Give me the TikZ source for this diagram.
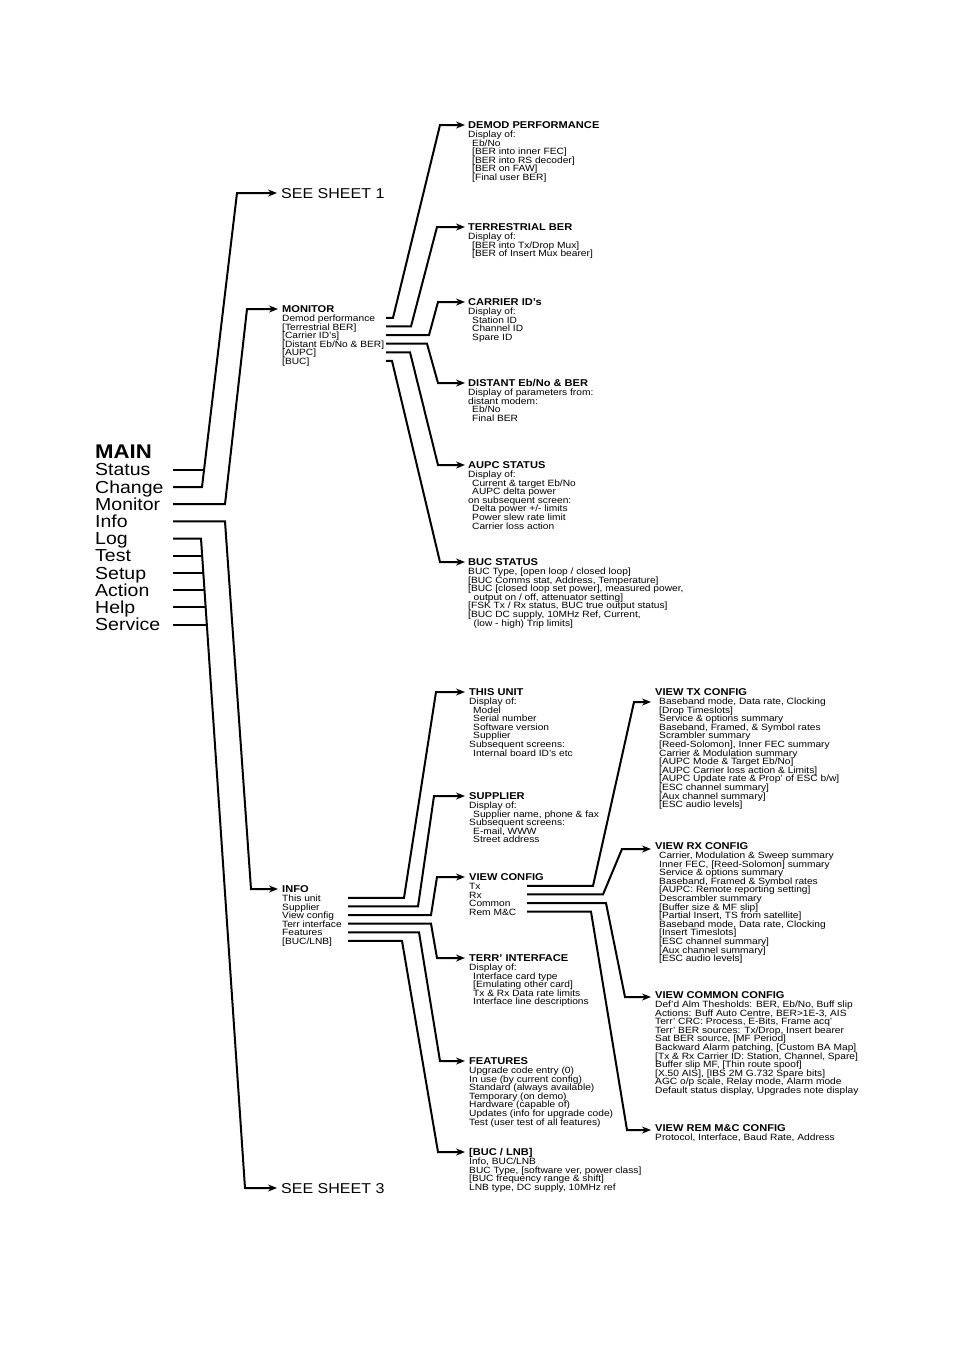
\documentclass[tikz,border=0pt]{standalone}
\usepackage{fontspec}
\setmainfont{Liberation Sans}[FakeStretch=1.12]
\usetikzlibrary{arrows.meta}
\newcommand\subf{\fontsize{9.1}{8.6}\selectfont\lineskiplimit=-10pt}
\newcommand\hdrf{\fontsize{9.9}{8.6}\selectfont\bfseries}
\newcommand\menuf{\fontsize{17.4}{17.2}\selectfont}
\newcommand\mainf{\fontsize{19.8}{17.2}\selectfont\bfseries}
\newcommand\sheetf{\fontsize{14.3}{14}\selectfont}
\newcommand\hd[1]{\rule{0pt}{7.2pt}{\hdrf #1}}
\newcommand\ind{\hspace*{4pt}}
\newcommand\indd{\hspace*{5.5pt}}
\begin{document}
\begin{tikzpicture}[x=1pt,y=-1pt,
  blk/.style={anchor=north west,inner sep=0pt,align=left,font=\subf},
  menu/.style={anchor=base west,inner sep=0pt,font=\menuf},
  sheet/.style={anchor=base west,inner sep=0pt,font=\sheetf},
  plain/.style={line width=2pt},
  conn/.style={line width=2pt,-{Stealth[length=9pt,width=7pt]}}]
\path[use as bounding box,fill=white] (0,0) rectangle (954,1350);

% ---------- MAIN menu ----------
\node[menu,font=\mainf] (main) at (95,458.7) {MAIN};
\node[menu] (status)  at (95,475.9) {Status};
\node[menu] (change)  at (95,493.1) {Change};
\node[menu] (monitorm) at (95,510.3) {Monitor};
\node[menu] (infom)   at (95,527.5) {Info};
\node[menu] (log)     at (95,544.7) {Log};
\node[menu] (test)    at (95,561.9) {Test};
\node[menu] (setup)   at (95,579.1) {Setup};
\node[menu] (action)  at (95,596.3) {Action};
\node[menu] (help)    at (95,613.5) {Help};
\node[menu] (service) at (95,630.7) {Service};

\coordinate (s-status)  at (173,469.8);
\coordinate (s-change)  at (173,487.0);
\coordinate (s-monitor) at (173,504.2);
\coordinate (s-info)    at (173,521.4);
\coordinate (s-log)     at (173,538.6);
\coordinate (s-test)    at (173,555.8);
\coordinate (s-setup)   at (173,573.0);
\coordinate (s-action)  at (173,590.2);
\coordinate (s-help)    at (173,607.4);
\coordinate (s-service) at (173,624.6);

% ---------- second level ----------
\node[sheet] (sheet1) at (281,198.1) {SEE SHEET 1};
\node[sheet] (sheet3) at (281,1193.1) {SEE SHEET 3};

\node[blk] (monitor) at (282,305.4) {\hd{MONITOR}\\{}Demod performance\\{}[Terrestrial BER]\\{}[Carrier ID's]\\{}[Distant Eb/No \& BER]\\{}[AUPC]\\{}[BUC]};
\node[blk] (info) at (282,885.4) {\hd{INFO}\\{}This unit\\{}Supplier\\{}View config\\{}Terr interface\\{}Features\\{}[BUC/LNB]};

% ---------- monitor sub menus ----------
\node[blk] (demod) at (468,121.4) {\hd{DEMOD PERFORMANCE}\\{}Display of:\\{}\ind Eb/No\\{}\ind [BER into inner FEC]\\{}\ind [BER into RS decoder]\\{}\ind [BER on FAW]\\{}\ind [Final user BER]};
\node[blk] (terrber) at (468,223.4) {\hd{TERRESTRIAL BER}\\{}Display of:\\{}\ind [BER into Tx/Drop Mux]\\{}\ind [BER of Insert Mux bearer]};
\node[blk] (carrier) at (468,298.4) {\hd{CARRIER ID's}\\{}Display of:\\{}\ind Station ID\\{}\ind Channel ID\\{}\ind Spare ID};
\node[blk] (distant) at (468,379.4) {\hd{DISTANT Eb/No \& BER}\\{}Display of parameters from:\\{}distant modem:\\{}\ind Eb/No\\{}\ind Final BER};
\node[blk] (aupc) at (468,461.4) {\hd{AUPC STATUS}\\{}Display of:\\{}\ind Current \& target Eb/No\\{}\ind AUPC delta power\\{}on subsequent screen:\\{}\ind Delta power +/- limits\\{}\ind Power slew rate limit\\{}\ind Carrier loss action};
\node[blk] (bucst) at (468,558.4) {\hd{BUC STATUS}\\{}BUC Type, [open loop / closed loop]\\{}[BUC Comms stat, Address, Temperature]\\{}[BUC [closed loop set power], measured power,\\{}\indd output on / off, attenuator setting]\\{}[FSK Tx / Rx status, BUC true output status]\\{}[BUC DC supply, 10MHz Ref, Current,\\{}\indd (low - high) Trip limits]};

% ---------- info sub menus ----------
\node[blk] (thisunit) at (469,688.4) {\hd{THIS UNIT}\\{}Display of:\\{}\ind Model\\{}\ind Serial number\\{}\ind Software version\\{}\ind Supplier\\{}Subsequent screens:\\{}\ind Internal board ID's etc};
\node[blk] (supplier) at (469,792.4) {\hd{SUPPLIER}\\{}Display of:\\{}\ind Supplier name, phone \& fax\\{}Subsequent screens:\\{}\ind E-mail, WWW\\{}\ind Street address};
\node[blk] (viewcfg) at (469,873.4) {\hd{VIEW CONFIG}\\{}Tx\\{}Rx\\{}Common\\{}Rem M\&C};
\node[blk] (terrif) at (469,954.4) {\hd{TERR' INTERFACE}\\{}Display of:\\{}\ind Interface card type\\{}\ind [Emulating other card]\\{}\ind Tx \& Rx Data rate limits\\{}\ind Interface line descriptions};
\node[blk] (features) at (469,1057.4) {\hd{FEATURES}\\{}Upgrade code entry (0)\\{}In use (by current config)\\{}Standard (always available)\\{}Temporary (on demo)\\{}Hardware (capable of)\\{}Updates (info for upgrade code)\\{}Test (user test of all features)};
\node[blk] (buclnb) at (469,1148.4) {\hd{[BUC / LNB]}\\{}Info, BUC/LNB\\{}BUC Type, [software ver, power class]\\{}[BUC frequency range \& shift]\\{}LNB type, DC supply, 10MHz ref};

% ---------- view config sub menus ----------
\node[blk] (vtx) at (655,688.4) {\hd{VIEW TX CONFIG}\\{}\ind Baseband mode, Data rate, Clocking\\{}\ind [Drop Timeslots]\\{}\ind Service \& options summary\\{}\ind Baseband, Framed, \& Symbol rates\\{}\ind Scrambler summary\\{}\ind [Reed-Solomon], Inner FEC summary\\{}\ind Carrier \& Modulation summary\\{}\ind [AUPC Mode \& Target Eb/No]\\{}\ind [AUPC Carrier loss action \& Limits]\\{}\ind [AUPC Update rate \& Prop' of ESC b/w]\\{}\ind [ESC channel summary]\\{}\ind [Aux channel summary]\\{}\ind [ESC audio levels]};
\node[blk] (vrx) at (655,842.4) {\hd{VIEW RX CONFIG}\\{}\ind Carrier, Modulation \& Sweep summary\\{}\ind Inner FEC, [Reed-Solomon] summary\\{}\ind Service \& options summary\\{}\ind Baseband, Framed \& Symbol rates\\{}\ind [AUPC: Remote reporting setting]\\{}\ind Descrambler summary\\{}\ind [Buffer size \& MF slip]\\{}\ind [Partial Insert, TS from satellite]\\{}\ind Baseband mode, Data rate, Clocking\\{}\ind [Insert Timeslots]\\{}\ind [ESC channel summary]\\{}\ind [Aux channel summary]\\{}\ind [ESC audio levels]};
\node[blk] (vcommon) at (655,991.4) {\hd{VIEW COMMON CONFIG}\\{}Def'd Alm Thesholds: BER, Eb/No, Buff slip\\{}Actions: Buff Auto Centre, BER>1E-3, AIS\\{}Terr' CRC: Process, E-Bits, Frame acq'\\{}Terr' BER sources: Tx/Drop, Insert bearer\\{}Sat BER source, [MF Period]\\{}Backward Alarm patching, [Custom BA Map]\\{}[Tx \& Rx Carrier ID: Station, Channel, Spare]\\{}Buffer slip MF, [Thin route spoof]\\{}[X.50 AIS], [IBS 2M G.732 Spare bits]\\{}AGC o/p scale, Relay mode, Alarm mode\\{}Default status display, Upgrades note display};
\node[blk] (vrem) at (655,1124.4) {\hd{VIEW REM M\&C CONFIG}\\{}Protocol, Interface, Baud Rate, Address};

% ---------- arrow targets ----------
\coordinate (t-sheet1) at ([xshift=-4pt,yshift=5.1pt]sheet1.base west);
\coordinate (t-sheet3) at ([xshift=-4pt,yshift=5.1pt]sheet3.base west);
\coordinate (t-monitor) at ([xshift=-4pt,yshift=-3.6pt]monitor.north west);
\coordinate (t-info) at ([xshift=-4pt,yshift=-3.6pt]info.north west);
\foreach \n in {demod,terrber,carrier,distant,aupc,bucst}
  {\coordinate (t-\n) at ([xshift=-3pt,yshift=-3.6pt]\n.north west);}
\foreach \n in {thisunit,supplier,viewcfg,terrif,features,buclnb}
  {\coordinate (t-\n) at ([xshift=-4pt,yshift=-3.6pt]\n.north west);}
\coordinate (t-vtx) at ([xshift=-4pt,yshift=-13.6pt]vtx.north west);
\coordinate (t-vrx) at ([xshift=-4pt,yshift=-6.6pt]vrx.north west);
\coordinate (t-vcommon) at ([xshift=-4pt,yshift=-5.6pt]vcommon.north west);
\coordinate (t-vrem) at ([xshift=-4pt,yshift=-5.6pt]vrem.north west);

% ---------- item line starts ----------
\foreach \k in {1,...,6} {
  \coordinate (s-mon\k) at (386,309.25+8.6*\k);
  \coordinate (s-inf\k) at (348,889.25+8.6*\k);
}
\foreach \k in {1,...,4} {\coordinate (s-vc\k) at (527,877.25+8.6*\k);}

% ---------- MAIN connectors ----------
\draw[plain] (s-status) -- (204.6,469.8);
\draw[conn] (s-change) -- (202,487) -- (237,0 |- t-sheet1) -- (t-sheet1);
\draw[conn] (s-monitor) -- (225,504.2) -- (247,0 |- t-monitor) -- (t-monitor);
\draw[conn] (s-info) -- (225,521.4) -- (251,0 |- t-info) -- (t-info);
\draw[conn] (s-log) -- (201,538.6) -- (245,0 |- t-sheet3) -- (t-sheet3);
\draw[plain] (s-test) -- (202.7,555.8);
\draw[plain] (s-setup) -- (203.8,573.0);
\draw[plain] (s-action) -- (205.0,590.2);
\draw[plain] (s-help) -- (206.2,607.4);
\draw[plain] (s-service) -- (207.3,624.6);

% ---------- MONITOR connectors ----------
\draw[conn] (s-mon1) -- ++(7,0) -- (440,0 |- t-demod) -- (t-demod);
\draw[conn] (s-mon2) -- ++(25,0) -- (437,0 |- t-terrber) -- (t-terrber);
\draw[conn] (s-mon3) -- ++(43,0) -- (438,0 |- t-carrier) -- (t-carrier);
\draw[conn] (s-mon4) -- ++(41,0) -- (438,0 |- t-distant) -- (t-distant);
\draw[conn] (s-mon5) -- ++(24,0) -- (438,0 |- t-aupc) -- (t-aupc);
\draw[conn] (s-mon6) -- ++(6,0) -- (440,0 |- t-bucst) -- (t-bucst);

% ---------- INFO connectors ----------
\draw[conn] (s-inf1) -- ++(56,0) -- (436,0 |- t-thisunit) -- (t-thisunit);
\draw[conn] (s-inf2) -- ++(70,0) -- (434,0 |- t-supplier) -- (t-supplier);
\draw[conn] (s-inf3) -- ++(83,0) -- (437,0 |- t-viewcfg) -- (t-viewcfg);
\draw[conn] (s-inf4) -- ++(83,0) -- (437,0 |- t-terrif) -- (t-terrif);
\draw[conn] (s-inf5) -- ++(71,0) -- (440,0 |- t-features) -- (t-features);
\draw[conn] (s-inf6) -- ++(54,0) -- (438,0 |- t-buclnb) -- (t-buclnb);

% ---------- VIEW CONFIG connectors ----------
\draw[conn] (s-vc1) -- ++(66,0) -- (634,0 |- t-vtx) -- (t-vtx);
\draw[conn] (s-vc2) -- ++(76,0) -- (622,0 |- t-vrx) -- (t-vrx);
\draw[conn] (s-vc3) -- ++(79,0) -- (625,0 |- t-vcommon) -- (t-vcommon);
\draw[conn] (s-vc4) -- ++(64,0) -- (627,0 |- t-vrem) -- (t-vrem);
\end{tikzpicture}
\end{document}
